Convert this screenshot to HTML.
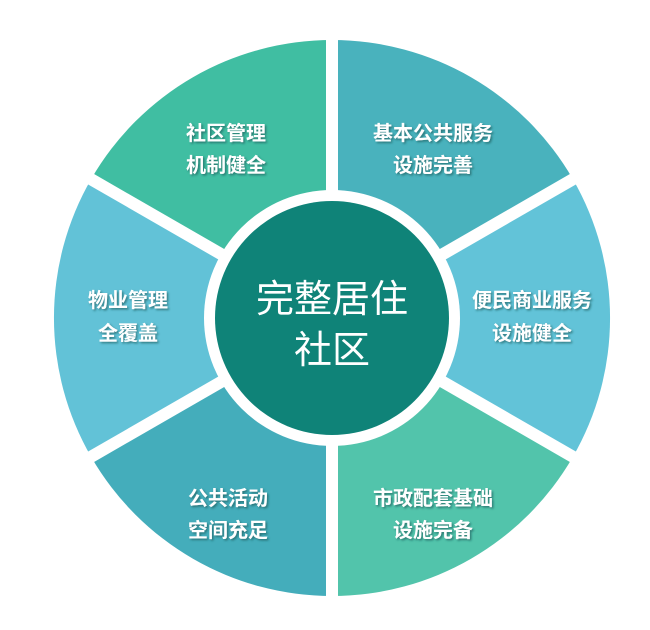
<!DOCTYPE html>
<html><head><meta charset="utf-8"><style>
html,body{margin:0;padding:0;background:#fff;}
svg text{font-family:"Liberation Sans","Noto Sans CJK SC",sans-serif;fill:#fff;font-weight:bold;text-anchor:middle;}
</style></head><body>
<svg width="650" height="625" viewBox="0 0 650 625" xmlns="http://www.w3.org/2000/svg">
<defs>
<filter id="sh" x="-10%" y="-10%" width="120%" height="130%"><feDropShadow dx="1.5" dy="1.5" stdDeviation="1" flood-color="#1d5a5a" flood-opacity="0.7"/></filter>
</defs>
<g>
<path d="M332 318 L332 40 A278 278 0 0 1 572.8 179 Z" fill="#49b2bd"/>
<path d="M332 318 L572.8 179 A278 278 0 0 1 572.8 457 Z" fill="#62c3d8"/>
<path d="M332 318 L572.8 457 A278 278 0 0 1 332 596 Z" fill="#52c4ab"/>
<path d="M332 318 L332 596 A278 278 0 0 1 91.2 457 Z" fill="#44adbb"/>
<path d="M332 318 L91.2 457 A278 278 0 0 1 91.2 179 Z" fill="#62c2d7"/>
<path d="M332 318 L91.2 179 A278 278 0 0 1 332 40 Z" fill="#40bea2"/>
</g>
<g stroke="#fff" stroke-width="12">
<line x1="332" y1="318" x2="332" y2="30"/>
<line x1="332" y1="318" x2="582" y2="174"/>
<line x1="332" y1="318" x2="582" y2="462"/>
<line x1="332" y1="318" x2="332" y2="606"/>
<line x1="332" y1="318" x2="82" y2="462"/>
<line x1="332" y1="318" x2="82" y2="174"/>
</g>
<circle cx="332" cy="318" r="128" fill="#fff"/>
<circle cx="332" cy="318" r="117" fill="#0f8378"/>
<g filter="url(#sh)" font-size="20">
<text x="226" y="140">社区管理</text><text x="226" y="172">机制健全</text>
<text x="433" y="140">基本公共服务</text><text x="433" y="172">设施完善</text>
<text x="532" y="307">便民商业服务</text><text x="532" y="340">设施健全</text>
<text x="433" y="505">市政配套基础</text><text x="433" y="537">设施完备</text>
<text x="228" y="505">公共活动</text><text x="228" y="537">空间充足</text>
<text x="128" y="307">物业管理</text><text x="128" y="340">全覆盖</text>
</g>
<text x="332" y="312" font-size="38" style="font-weight:normal">完整居住</text>
<text x="332" y="363" font-size="38" style="font-weight:normal">社区</text>
</svg>
</body></html>
